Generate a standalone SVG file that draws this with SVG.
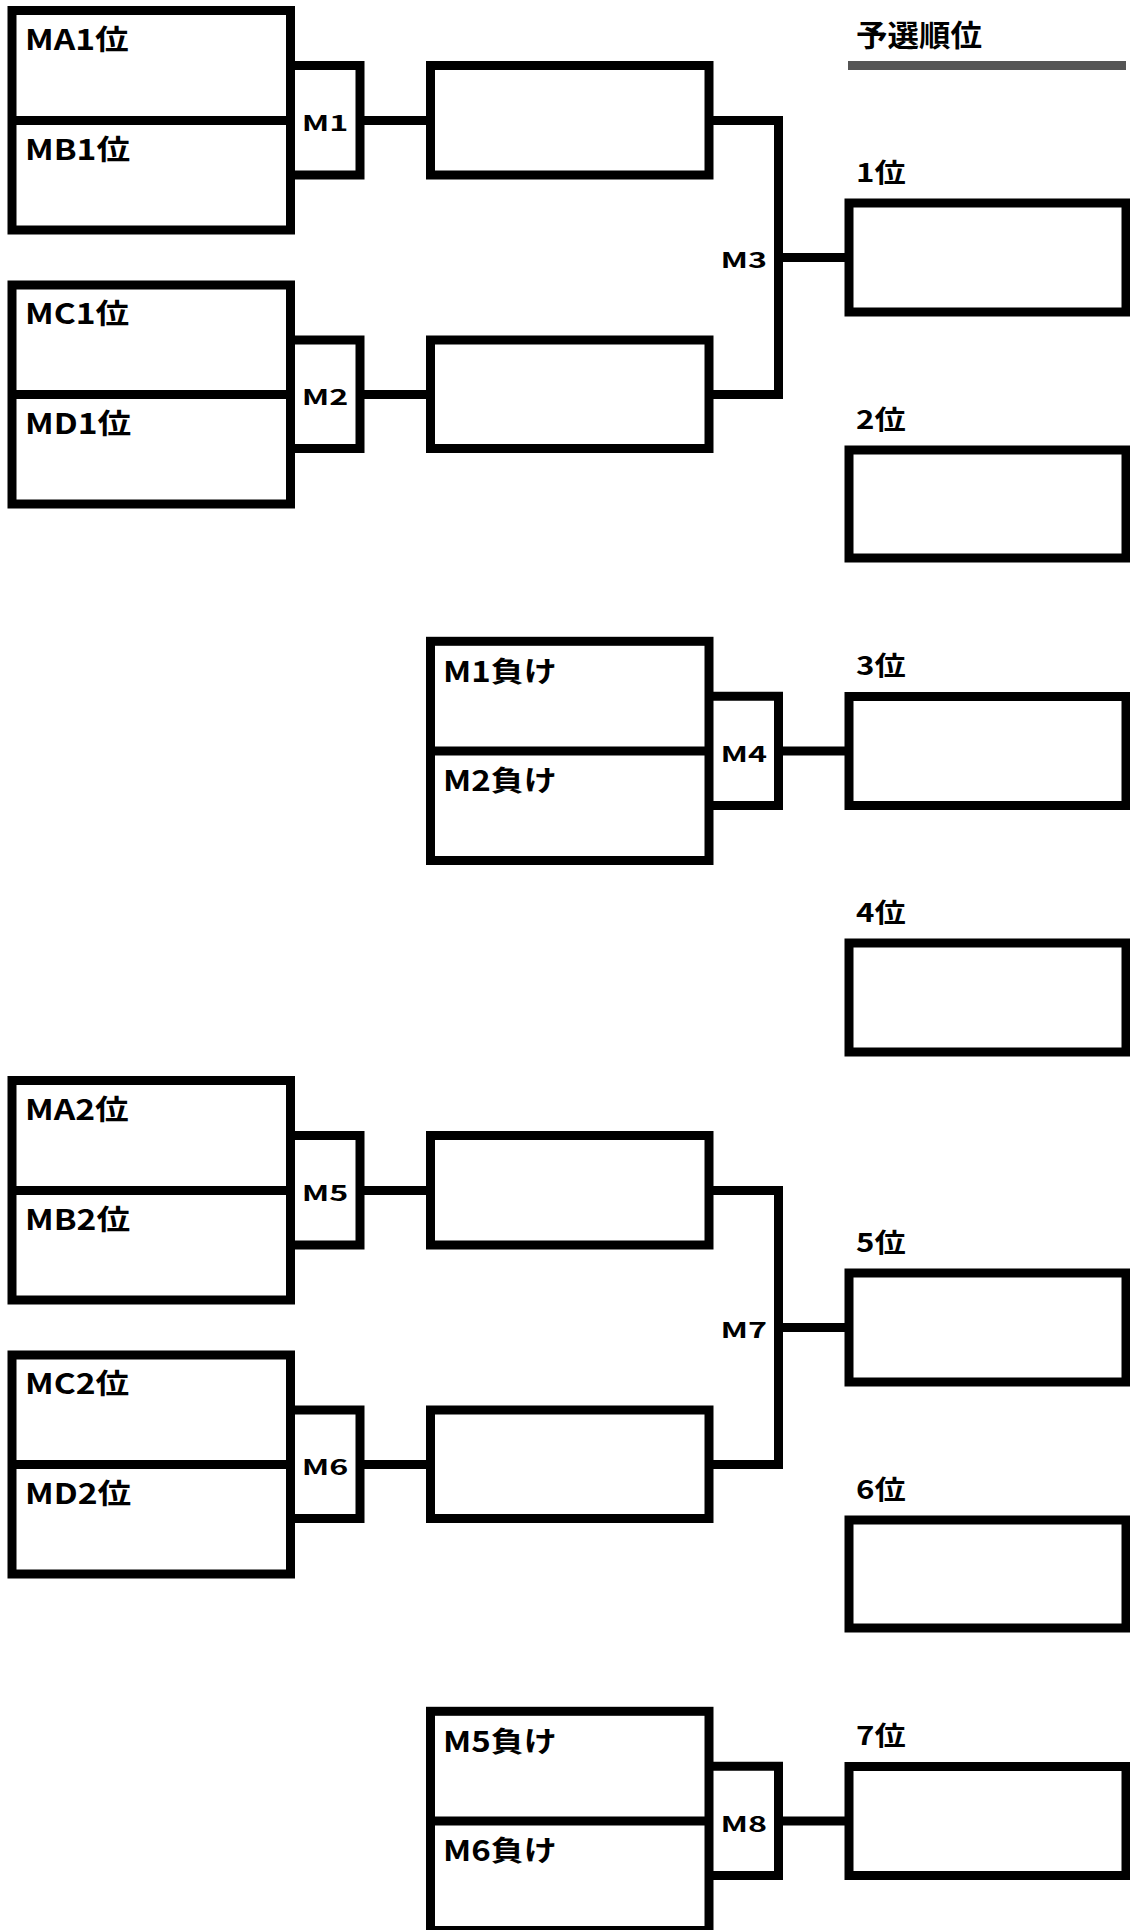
<svg xmlns="http://www.w3.org/2000/svg" width="1130" height="1930" viewBox="0 0 1130 1930">
<style>
.b{fill:#fff;stroke:#000;stroke-width:9;stroke-linejoin:miter}
.l{fill:none;stroke:#000;stroke-width:9;stroke-linejoin:miter}
.t{font-family:"Noto Sans CJK JP","Noto Sans",sans-serif;font-weight:bold;font-size:28.5px;fill:#000}
.r{font-family:"Noto Sans CJK JP","Noto Sans",sans-serif;font-weight:bold;font-size:26px;fill:#000}
.h{font-family:"Noto Sans CJK JP","Noto Sans",sans-serif;font-weight:bold;font-size:30px;fill:#000}
.m{font-family:"Noto Sans CJK JP","Noto Sans",sans-serif;font-weight:bold;font-size:21.5px;fill:#000;text-anchor:middle}
</style>
<rect width="1130" height="1930" fill="#fff"/>
<defs>
<g id="half">
<g id="pairA"><rect class="b" x="12" y="10.5" width="278.5" height="219.5"/><line class="l" x1="12" y1="120.5" x2="290.5" y2="120.5"/></g>
<g id="pairB"><rect class="b" x="12" y="285" width="278.5" height="219"/><line class="l" x1="12" y1="394.5" x2="290.5" y2="394.5"/></g>
<rect class="b" x="430.5" y="65.5" width="278.5" height="109.5"/>
<rect class="b" x="430.5" y="340" width="278.5" height="108.5"/>
<rect class="b" x="430.5" y="641.3" width="278.5" height="219.2"/><line class="l" x1="430.5" y1="751" x2="709" y2="751"/>
<rect class="b" x="849" y="203" width="277" height="109"/>
<rect class="b" x="849" y="450" width="277" height="108"/>
<rect class="b" x="849" y="696.5" width="277" height="109"/>
<path class="l" d="M290.5,65.5H360V175H290.5M360,120.5H430.5"/>
<path class="l" d="M290.5,340H360V448.5H290.5M360,394.5H430.5"/>
<path class="l" d="M709,120.5H778.5V394.5H709M778.5,257.5H849"/>
<path class="l" d="M709,696.3H778.5V805.5H709M778.5,751H849"/>
</g>
</defs>
<g id="nodes">
<use href="#half"/>
<use href="#half" transform="translate(0,1070)"/>
<rect class="b" x="849" y="943" width="277" height="109"/>
</g>
<g id="labels">
<text class="h" transform="translate(856,46) scale(1.05,1)">予選順位</text>
<rect x="848" y="61" width="278" height="9" fill="#555"/>
<text class="t" transform="translate(25,49.5) scale(1.18,1)">MA1位</text>
<text class="t" transform="translate(25,159.5) scale(1.18,1)">MB1位</text>
<text class="t" transform="translate(25,324) scale(1.18,1)">MC1位</text>
<text class="t" transform="translate(25,433.5) scale(1.18,1)">MD1位</text>
<text class="t" transform="translate(443,681.5) scale(1.16,1)">M1負け</text>
<text class="t" transform="translate(443,791.3) scale(1.16,1)">M2負け</text>
<text class="r" transform="translate(856,181.8) scale(1.2,1)">1位</text>
<text class="r" transform="translate(856,428.8) scale(1.2,1)">2位</text>
<text class="r" transform="translate(856,675.3) scale(1.2,1)">3位</text>
<text class="r" transform="translate(856,921.8) scale(1.2,1)">4位</text>
<text class="m" transform="translate(325,130.5) scale(1.5,1)">M1</text>
<text class="m" transform="translate(325,404.5) scale(1.5,1)">M2</text>
<text class="m" transform="translate(743.8,268) scale(1.5,1)">M3</text>
<text class="m" transform="translate(743.8,761.5) scale(1.5,1)">M4</text>
<text class="t" transform="translate(25,1119.5) scale(1.18,1)">MA2位</text>
<text class="t" transform="translate(25,1229.5) scale(1.18,1)">MB2位</text>
<text class="t" transform="translate(25,1394) scale(1.18,1)">MC2位</text>
<text class="t" transform="translate(25,1503.5) scale(1.18,1)">MD2位</text>
<text class="t" transform="translate(443,1751.5) scale(1.16,1)">M5負け</text>
<text class="t" transform="translate(443,1861.3) scale(1.16,1)">M6負け</text>
<text class="r" transform="translate(856,1251.8) scale(1.2,1)">5位</text>
<text class="r" transform="translate(856,1498.8) scale(1.2,1)">6位</text>
<text class="r" transform="translate(856,1745.3) scale(1.2,1)">7位</text>
<text class="m" transform="translate(325,1200.5) scale(1.5,1)">M5</text>
<text class="m" transform="translate(325,1474.5) scale(1.5,1)">M6</text>
<text class="m" transform="translate(743.8,1338) scale(1.5,1)">M7</text>
<text class="m" transform="translate(743.8,1831.5) scale(1.5,1)">M8</text>
</g>
</svg>
